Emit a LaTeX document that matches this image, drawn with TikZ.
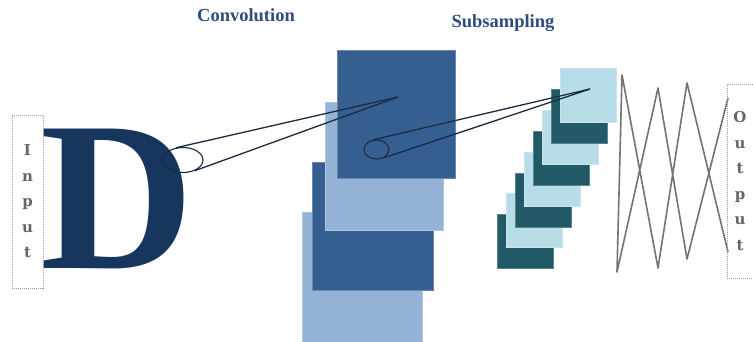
\documentclass[tikz,border=0pt]{standalone}
\usepackage{fontspec}
\setmainfont{Liberation Serif}
\newfontfamily\slabfont{DejaVu Serif}
\usepackage{tikz}
\usetikzlibrary{shapes.geometric}
\definecolor{dnavy}{HTML}{17365D}
\definecolor{convdark}{HTML}{365F91}
\definecolor{convlight}{HTML}{95B3D7}
\definecolor{subdark}{HTML}{215967}
\definecolor{sublight}{HTML}{B7DEE8}
\definecolor{titreC}{HTML}{2E4C7E}
\definecolor{coneC}{HTML}{1C2A44}
\tikzset{
  fmap/.style={rectangle, anchor=north west, inner sep=0pt, fill=#1,
               draw=#1!75!white, line width=0.5pt},
  titre/.style={anchor=base, font=\fontsize{18.5}{20}\selectfont\bfseries, text=titreC},
  iobox/.style={rectangle, draw=gray!80, dash pattern=on 1pt off 1pt, line width=0.8pt,
                inner sep=0pt, align=center, text=black!60,
                font=\slabfont\bfseries\fontsize{15}{25.5}\selectfont},
  lens/.style={ellipse, draw=coneC, line width=1.1pt, inner sep=0pt},
  cone/.style={draw=coneC, line width=1.3pt},
  dense/.style={draw=black!55, line width=1.6pt, line join=round},
}

\begin{document}
\begin{tikzpicture}[x=1pt, y=-1pt]
    \useasboundingbox (0,0) rectangle (753,341);
    % titles
    \node[titre] (conv) at (246,21) {Convolution};
    \node[titre] (subs) at (503,27) {Subsampling};
    % input
    \node[iobox, minimum width=31pt, minimum height=173pt] (inp) at (27.5,201.5)
      {I\\n\\p\\u\\t};
    \node[anchor=base, inner sep=0pt, text=dnavy,
          font=\fontsize{213}{213}\selectfont\bfseries] (dletter) at (117,268) {D};
    % convolution maps, back to front
    \node[fmap=convlight, minimum width=120pt, minimum height=130pt] (c4) at (302,212) {};
    \node[fmap=convdark, minimum width=121pt, minimum height=128pt] (c3) at (312,162) {};
    \node[fmap=convlight, minimum width=118pt, minimum height=128pt] (c2) at (325,102) {};
    \node[fmap=convdark, minimum width=118pt, minimum height=128pt] (c1) at (337,50) {};
    % subsampling maps, back to front
    \foreach \i in {7,...,0}{
      \pgfmathsetmacro{\sx}{560-9*\i}
      \pgfmathsetmacro{\sy}{68+20.9*\i}
      \ifodd\i
        \node[fmap=subdark, minimum width=56pt, minimum height=54pt] (s\i) at (\sx,\sy) {};
      \else
        \node[fmap=sublight, minimum width=56pt, minimum height=54pt] (s\i) at (\sx,\sy) {};
      \fi
    }
    % receptive fields
    \node[lens, minimum width=40pt, minimum height=25pt] (e1) at (183,160) {};
    \node[lens, minimum width=25pt, minimum height=19pt] (e2) at (376.5,149.5) {};
    \coordinate (a1) at (398,97);
    \coordinate (a2) at (590,89);
    \draw[cone] (e1.120) -- (a1);
    \draw[cone] (e1.-42) -- (a1);
    \draw[cone] (e2.110) -- (a2);
    \draw[cone] (e2.-50) -- (a2);
    % fully connected part
    \coordinate (z1) at (728,252);
    \coordinate (z2) at (687,83);
    \coordinate (z3) at (658,268);
    \coordinate (z4) at (622,75);
    \coordinate (z5) at (617,272);
    \coordinate (z6) at (658,88);
    \coordinate (z7) at (687,259);
    \coordinate (z8) at (728,98);
    \draw[dense] (z1) -- (z2) -- (z3) -- (z4) -- (z5) -- (z6) -- (z7) -- (z8);
    % output
    \node[iobox, minimum width=26pt, minimum height=194pt] (outp) at (740,181)
      {O\\u\\t\\p\\u\\t};
  \end{tikzpicture}
\end{document}
